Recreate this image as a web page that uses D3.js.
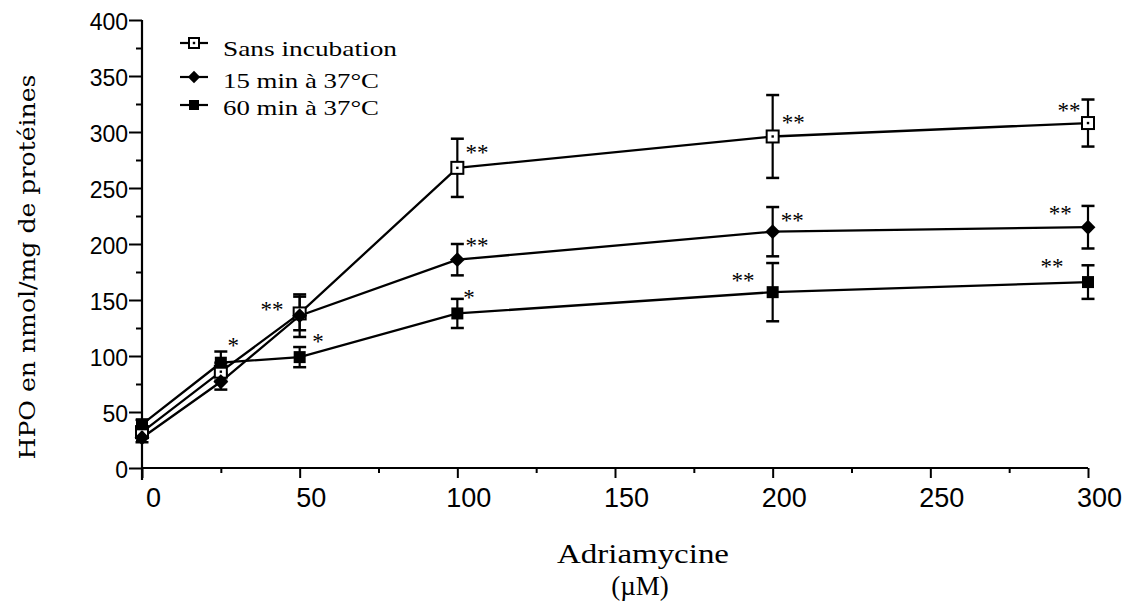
<!DOCTYPE html>
<html>
<head>
<meta charset="utf-8">
<script src="https://cdn.jsdelivr.net/npm/d3@7"></script>
<style>
  html, body { margin: 0; padding: 0; background: #fff; }
  svg { display: block; }
</style>
</head>
<body>
<svg id="chart" width="1124" height="602"></svg>
<script>
// ---------------- data ----------------
const doses = [0, 25, 50, 100, 200, 300];
const seriesNames = ["Sans incubation", "15 min à 37°C", "60 min à 37°C"];
const sansMean  = [32, 86, 138, 268, 296, 308];
const sansErr   = [5, 8, 15, 26, 37, 21];
const min15Mean = [27, 77, 136, 186, 211, 215];
const min15Err  = [4, 7, 19, 14, 22, 19];
const min60Mean = [39, 94, 99, 138, 157, 166];
const min60Err  = [4, 10, 9, 13, 26, 15];
const yMajorTicks = [0, 50, 100, 150, 200, 250, 300, 350, 400];
const xMajorTicks = [0, 50, 100, 150, 200, 250, 300];
// significance marks (positions in data units)
const starX = [28.9, 41.2, 55.8, 106.2, 106.2, 103.7, 206.5, 206.2, 190.6, 294, 291.2, 288.6];
const starY = [112.5, 144.6, 116, 284, 201, 155, 311, 224, 170, 322, 230, 183];
const starLabel = ["*", "**", "*", "**", "**", "*", "**", "**", "**", "**", "**", "**"];
const xTitle = "Adriamycine";
const xUnit = "(µM)";
const yTitle = "HPO en nmol/mg de protéines";

// ---------------- layout ----------------
const svg = d3.select("#chart");
const x = d3.scaleLinear().domain([0, 300]).range([142, 1088]);
const y = d3.scaleLinear().domain([0, 400]).range([468, 20]);

const series = [
  { name: seriesNames[0], mean: sansMean, err: sansErr, marker: "openSquare" },
  { name: seriesNames[1], mean: min15Mean, err: min15Err, marker: "diamond" },
  { name: seriesNames[2], mean: min60Mean, err: min60Err, marker: "filledSquare" }
];

// ---------------- axes ----------------
const yMinor = d3.range(25, 400, 50);
const xMinor = d3.range(25, 300, 50);

const gy = svg.append("g").attr("transform", `translate(${x(0)},0)`);
gy.call(d3.axisLeft(y).tickValues(yMajorTicks).tickSize(13).tickPadding(1).tickFormat(d3.format("d")));
gy.select(".domain").remove();
gy.selectAll(".tick line").attr("stroke", "#000").attr("stroke-width", 2);
gy.selectAll(".tick text").attr("font-family", "Liberation Sans, Arial, sans-serif")
  .attr("font-size", 23).attr("fill", "#000").attr("dy", "0.42em");
const gyMinor = svg.append("g").attr("transform", `translate(${x(0)},0)`);
gyMinor.call(d3.axisLeft(y).tickValues(yMinor).tickSize(6).tickFormat(""));
gyMinor.select(".domain").remove();
gyMinor.selectAll(".tick line").attr("stroke", "#000").attr("stroke-width", 2);
// y axis line (extends slightly below the x axis)
svg.append("line").attr("x1", x(0)).attr("x2", x(0)).attr("y1", y(400)).attr("y2", y(0) + 12)
  .attr("stroke", "#000").attr("stroke-width", 2.2);

const gx = svg.append("g").attr("transform", `translate(0,${y(0)})`);
gx.call(d3.axisBottom(x).tickValues(xMajorTicks).tickSize(10).tickPadding(10).tickFormat(d3.format("d")));
gx.select(".domain").remove();
gx.selectAll(".tick line").attr("stroke", "#000").attr("stroke-width", 2);
gx.selectAll(".tick text").attr("font-family", "Liberation Sans, Arial, sans-serif")
  .attr("font-size", 27).attr("fill", "#000").attr("dx", 11).attr("dy", "0.72em");
const gxMinor = svg.append("g").attr("transform", `translate(0,${y(0)})`);
gxMinor.call(d3.axisBottom(x).tickValues(xMinor).tickSize(5).tickFormat(""));
gxMinor.select(".domain").remove();
gxMinor.selectAll(".tick line").attr("stroke", "#000").attr("stroke-width", 2);
svg.append("line").attr("x1", x(0)).attr("x2", x(300)).attr("y1", y(0)).attr("y2", y(0))
  .attr("stroke", "#000").attr("stroke-width", 2.2);

// ---------------- titles ----------------
svg.append("text").attr("x", 643).attr("y", 563).attr("text-anchor", "middle")
  .attr("font-family", "Liberation Serif, Times New Roman, serif").attr("font-size", 27)
  .attr("textLength", 172).attr("lengthAdjust", "spacingAndGlyphs").text(xTitle);
svg.append("text").attr("x", 640).attr("y", 595).attr("text-anchor", "middle")
  .attr("font-family", "Liberation Serif, Times New Roman, serif").attr("font-size", 27)
  .text(xUnit);
svg.append("text").attr("transform", "translate(35,267) rotate(-90)").attr("text-anchor", "middle")
  .attr("font-family", "DejaVu Serif, serif").attr("font-size", 23)
  .attr("textLength", 385).attr("lengthAdjust", "spacingAndGlyphs").text(yTitle);

// ---------------- markers ----------------
function drawMarker(g, type, cx, cy, s) {
  if (type === "openSquare") {
    g.append("rect").attr("x", cx - s / 2).attr("y", cy - s / 2).attr("width", s).attr("height", s)
      .attr("fill", "#fff").attr("stroke", "#000").attr("stroke-width", 2);
    g.append("rect").attr("x", cx - 1.2).attr("y", cy - 1.2).attr("width", 2.4).attr("height", 2.4).attr("fill", "#000");
  } else if (type === "diamond") {
    const r = s * 0.62;
    g.append("path").attr("d", `M${cx},${cy - r}L${cx + r},${cy}L${cx},${cy + r}L${cx - r},${cy}Z`)
      .attr("fill", "#000");
  } else {
    g.append("rect").attr("x", cx - s / 2).attr("y", cy - s / 2).attr("width", s).attr("height", s)
      .attr("fill", "#000");
  }
}

const line = d3.line().x(d => x(d[0])).y(d => y(d[1]));
const plot = svg.append("g");
series.forEach(s => {
  const pts = doses.map((d, i) => [d, s.mean[i]]);
  plot.append("path").attr("d", line(pts)).attr("fill", "none").attr("stroke", "#000").attr("stroke-width", 2.3);
});
series.forEach(s => {
  const g = plot.append("g");
  doses.forEach((d, i) => {
    const cx = x(d), top = y(s.mean[i] + s.err[i]), bot = y(s.mean[i] - s.err[i]);
    g.append("line").attr("x1", cx).attr("x2", cx).attr("y1", top).attr("y2", bot).attr("stroke", "#000").attr("stroke-width", 2.2);
    g.append("line").attr("x1", cx - 6.5).attr("x2", cx + 6.5).attr("y1", top).attr("y2", top).attr("stroke", "#000").attr("stroke-width", 2.5);
    g.append("line").attr("x1", cx - 6.5).attr("x2", cx + 6.5).attr("y1", bot).attr("y2", bot).attr("stroke", "#000").attr("stroke-width", 2.5);
  });
});
series.forEach(s => {
  const g = plot.append("g");
  doses.forEach((d, i) => drawMarker(g, s.marker, x(d), y(s.mean[i]), 12));
});

// ---------------- significance stars ----------------
starLabel.forEach((lab, i) => {
  svg.append("text").attr("x", x(starX[i])).attr("y", y(starY[i]) + 10.5).attr("text-anchor", "middle")
    .attr("font-family", "Liberation Serif, Times New Roman, serif").attr("font-size", 23).text(lab);
});

// ---------------- legend ----------------
const legendY = [43, 77, 105];
const legendBase = [56, 88, 115];
const legendLen = [174, 156, 156];
series.forEach((s, i) => {
  const g = svg.append("g");
  g.append("line").attr("x1", 180).attr("x2", 208).attr("y1", legendY[i]).attr("y2", legendY[i])
    .attr("stroke", "#000").attr("stroke-width", 2.2);
  drawMarker(g, s.marker, 194, legendY[i], 10);
  g.append("text").attr("x", 223).attr("y", legendBase[i])
    .attr("font-family", "Liberation Serif, Times New Roman, serif").attr("font-size", 22)
    .attr("textLength", legendLen[i]).attr("lengthAdjust", "spacingAndGlyphs").text(s.name);
});
</script>
</body>
</html>
